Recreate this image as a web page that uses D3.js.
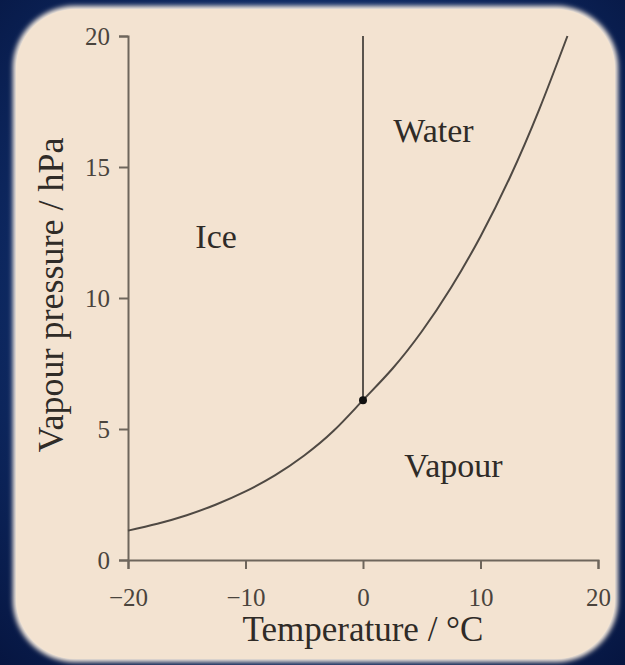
<!DOCTYPE html>
<html>
<head>
<meta charset="utf-8">
<script src="https://cdn.jsdelivr.net/npm/d3@7"></script>
<style>
  html, body { margin: 0; padding: 0; background: #071640; }
  svg { display: block; }
</style>
</head>
<body>
<div id="chart"></div>
<script>
// saturation vapour pressure curve
const temps = [-20, -17.5, -15, -12.5, -10, -7.5, -5, -2.5, 0, 2.5, 5, 7.5, 10, 12.5, 15, 17.4];
const pressures = [1.12, 1.385, 1.71, 2.12, 2.62, 3.23, 3.99, 4.93, 6.1, 7.3, 8.72, 10.4, 12.35, 14.6, 17.2, 20];

// ice / water boundary (vertical at 0 °C) and triple point
const meltTemps = [0, 0];
const meltPressures = [6.1, 20];
const triplePoint = { t: 0, p: 6.1 };

const xTicks = [-20, -10, 0, 10, 20];
const yTicks = [0, 5, 10, 15, 20];

const regionNames = ['Water', 'Ice', 'Vapour'];
const regionTemps = [6.0, -12.5, 7.7];
const regionPressures = [15.95, 11.9, 3.15];

const width = 625;
const height = 665;

const svg = d3.select('#chart').append('svg')
  .attr('width', width)
  .attr('height', height);

const defs = svg.append('defs');

const bg = defs.append('radialGradient')
  .attr('id', 'bg')
  .attr('cx', '50%').attr('cy', '45%').attr('r', '75%');
bg.append('stop').attr('offset', '0%').attr('stop-color', '#1a4a9a');
bg.append('stop').attr('offset', '100%').attr('stop-color', '#061540');

const glow = defs.append('filter')
  .attr('id', 'glow')
  .attr('x', '-5%').attr('y', '-5%')
  .attr('width', '110%').attr('height', '110%');
glow.append('feGaussianBlur').attr('stdDeviation', 2.5);

svg.append('rect')
  .attr('width', width)
  .attr('height', height)
  .attr('fill', 'url(#bg)');

// beige card with a soft light rim
svg.append('rect')
  .attr('x', 13).attr('y', 6)
  .attr('width', 605).attr('height', 656)
  .attr('rx', 62)
  .attr('fill', '#fff3e4')
  .attr('filter', 'url(#glow)');

svg.append('rect')
  .attr('x', 16).attr('y', 9)
  .attr('width', 599).attr('height', 650)
  .attr('rx', 60)
  .attr('fill', '#f3e3d1');

const x = d3.scaleLinear().domain([-20, 20]).range([128, 598]);
const y = d3.scaleLinear().domain([0, 20]).range([560, 36]);

const axisColor = '#6e665c';
const textColor = '#2f2b27';
const serif = '"Liberation Serif", "DejaVu Serif", serif';

const xAxis = svg.append('g')
  .attr('transform', `translate(0,${y(0)})`)
  .call(d3.axisBottom(x).tickValues(xTicks).tickSize(9).tickPadding(19));

const yAxis = svg.append('g')
  .attr('transform', `translate(${x(-20)},0)`)
  .call(d3.axisLeft(y).tickValues(yTicks).tickSize(9).tickPadding(9));

[xAxis, yAxis].forEach(g => {
  g.selectAll('path, line')
    .attr('stroke', axisColor)
    .attr('stroke-width', 2);
  g.selectAll('text')
    .attr('fill', '#4a443d')
    .style('font-family', serif)
    .style('font-size', '25px');
});

const line = d3.line()
  .x(d => x(d[0]))
  .y(d => y(d[1]))
  .curve(d3.curveNatural);

svg.append('path')
  .datum(temps.map((t, i) => [t, pressures[i]]))
  .attr('d', line)
  .attr('fill', 'none')
  .attr('stroke', '#4f4943')
  .attr('stroke-width', 2);

svg.append('path')
  .datum(meltTemps.map((t, i) => [t, meltPressures[i]]))
  .attr('d', d3.line().x(d => x(d[0])).y(d => y(d[1])))
  .attr('fill', 'none')
  .attr('stroke', '#5a544d')
  .attr('stroke-width', 2);

svg.append('circle')
  .attr('cx', x(triplePoint.t))
  .attr('cy', y(triplePoint.p))
  .attr('r', 4)
  .attr('fill', '#111');

svg.selectAll('.region')
  .data(regionNames)
  .enter()
  .append('text')
  .attr('class', 'region')
  .attr('x', (d, i) => x(regionTemps[i]))
  .attr('y', (d, i) => y(regionPressures[i]))
  .attr('text-anchor', 'middle')
  .attr('fill', textColor)
  .style('font-family', serif)
  .style('font-size', '34px')
  .text(d => d);

svg.append('text')
  .attr('x', x(0))
  .attr('y', 641)
  .attr('text-anchor', 'middle')
  .attr('fill', textColor)
  .style('font-family', serif)
  .style('font-size', '35px')
  .text('Temperature / °C');

svg.append('text')
  .attr('transform', `translate(63,${y(10) - 3}) rotate(-90)`)
  .attr('text-anchor', 'middle')
  .attr('fill', textColor)
  .style('font-family', serif)
  .style('font-size', '36px')
  .text('Vapour pressure / hPa');
</script>
</body>
</html>
